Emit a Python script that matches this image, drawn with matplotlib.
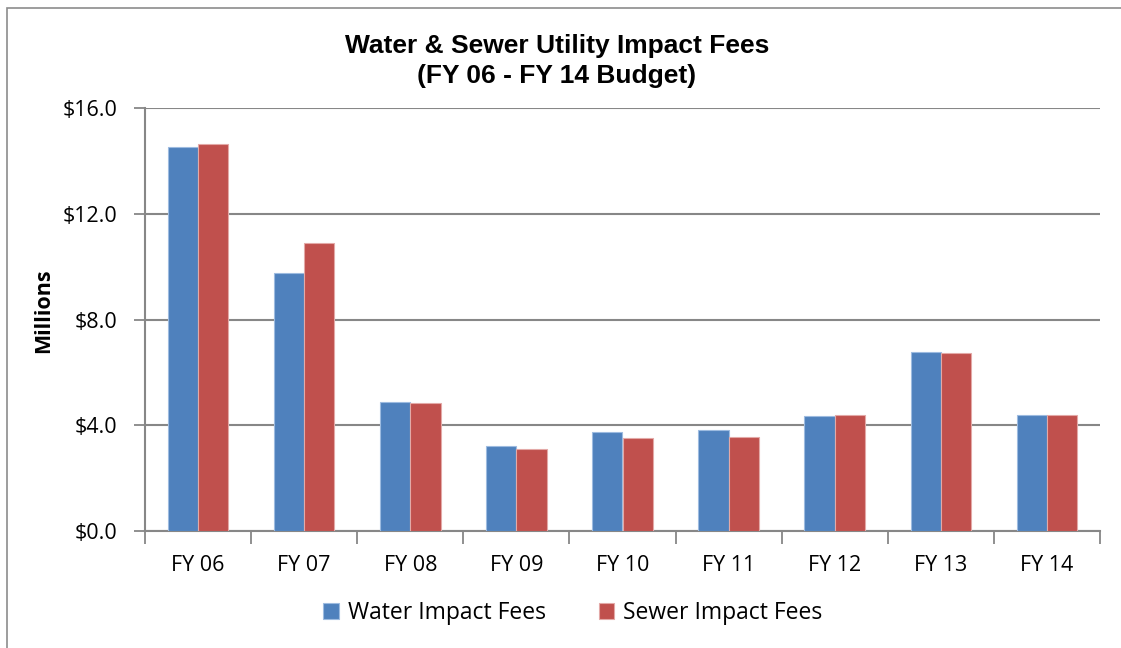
import matplotlib
matplotlib.use("Agg")
import matplotlib.pyplot as plt
from matplotlib.patches import Rectangle
from matplotlib.ticker import FixedLocator, FuncFormatter
import numpy as np

years = ["FY 06", "FY 07", "FY 08", "FY 09", "FY 10", "FY 11", "FY 12", "FY 13", "FY 14"]
water_fees = [14.53, 9.76, 4.87, 3.21, 3.74, 3.83, 4.36, 6.77, 4.39]
sewer_fees = [14.65, 10.88, 4.86, 3.09, 3.51, 3.55, 4.37, 6.73, 4.39]
y_ticks = [0, 4, 8, 12, 16]

BLUE = "#4F81BD"
RED = "#C0504D"
GRID = "#878787"
BODY_FONT = "Open Sans"

W, H = 1121, 648
fig = plt.figure(figsize=(W / 100, H / 100), dpi=100)
fig.patch.set_facecolor("white")

# chart frame
fig.patches.append(Rectangle((7 / W, -0.1), 1.2, 1 - 8 / H + 0.1, transform=fig.transFigure,
                             fill=False, edgecolor="#8c8c8c", linewidth=1.2))

ax = fig.add_axes([145 / W, 1 - 531 / H, (1100 - 145) / W, (531 - 108) / H])

x = np.arange(len(years))
bw = 0.285
ax.bar(x - bw / 2, water_fees, bw, color=BLUE, edgecolor="#9dbbe0", linewidth=0.8,
       label="Water Impact Fees", zorder=3)
ax.bar(x + bw / 2, sewer_fees, bw, color=RED, edgecolor="#e3a9a7", linewidth=0.8,
       label="Sewer Impact Fees", zorder=3)

ax.set_xlim(-0.5, len(years) - 0.5)
ax.set_ylim(0, 16)
ax.set_yticks(y_ticks)
ax.yaxis.set_major_formatter(FuncFormatter(lambda v, p: f"${v:.1f}"))
ax.grid(axis="y", color=GRID, linewidth=1.5, zorder=0)

ax.set_xticks(x)
ax.set_xticklabels(years)
ax.xaxis.set_minor_locator(FixedLocator(np.arange(-0.5, len(years), 1.0)))
ax.tick_params(axis="x", which="major", length=0, pad=17, labelsize=15.5)
ax.tick_params(axis="x", which="minor", length=9, width=1.3, color=GRID, direction="out")
ax.tick_params(axis="y", length=8, width=1.3, color=GRID, pad=12, labelsize=15.5)
for lab in ax.get_xticklabels() + ax.get_yticklabels():
    lab.set_fontfamily(BODY_FONT)

for side in ("top", "right"):
    ax.spines[side].set_visible(False)
for side in ("left", "bottom"):
    ax.spines[side].set_color(GRID)
    ax.spines[side].set_linewidth(1.5)

fig.text(44 / W, 1 - 311 / H, "Millions", rotation=90, ha="center", va="center",
         fontsize=15.5, fontweight="bold", fontfamily=BODY_FONT)

fig.text(557 / W, 1 - 61 / H, "Water & Sewer Utility Impact Fees\n(FY 06 - FY 14 Budget)",
         ha="center", va="center", fontsize=19, fontweight="bold",
         fontfamily="Liberation Sans", linespacing=1.28)

leg = ax.legend(loc="center", bbox_to_anchor=(573 / W, 1 - 613 / H), bbox_transform=fig.transFigure,
                ncol=2, frameon=False, prop={"family": BODY_FONT, "size": 16.5},
                handlelength=0.68, handleheight=0.68, handletextpad=0.4, columnspacing=2.3)

fig.savefig("out.png", dpi=100)
